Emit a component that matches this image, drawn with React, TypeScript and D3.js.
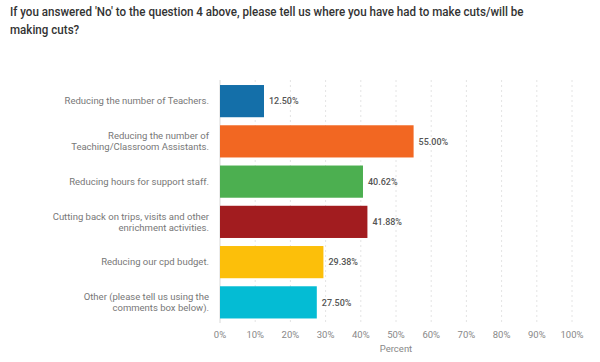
import React from "react";
import * as d3 from "d3";

const categories: string[][] = [
  ["Reducing the number of Teachers."],
  ["Reducing the number of", "Teaching/Classroom Assistants."],
  ["Reducing hours for support staff."],
  ["Cutting back on trips, visits and other", "enrichment activities."],
  ["Reducing our cpd budget."],
  ["Other (please tell us using the", "comments box below)."],
];
const values: number[] = [12.5, 55.0, 40.62, 41.88, 29.38, 27.5];
const valueLabels: string[] = ["12.50%", "55.00%", "40.62%", "41.88%", "29.38%", "27.50%"];
const colors: string[] = ["#146fa9", "#f26722", "#4caf50", "#a21c1f", "#fcbf0a", "#04bcd4"];
const ticks: number[] = [0, 10, 20, 30, 40, 50, 60, 70, 80, 90, 100];
const titleLines: string[] = [
  "If you answered 'No' to the question 4 above, please tell us where you have had to make cuts/will be",
  "making cuts?",
];

const W = 600;
const H = 362;
const FONT = "Roboto, 'Noto Sans', sans-serif";

export default function App() {
  const x = d3.scaleLinear().domain([0, 100]).range([220, 572]);
  const y = d3
    .scaleBand<number>()
    .domain(d3.range(values.length))
    .range([81, 322.5])
    .paddingInner(0.2)
    .paddingOuter(0.1);

  return (
    <svg
      width={W}
      height={H}
      style={{ position: "absolute", left: 0, top: 0, background: "#fff" }}
      fontFamily={FONT}
    >
      <g transform="translate(10,0) scale(0.86,1)">
        {titleLines.map((t, i) => (
          <text key={i} x={0} y={16 + i * 18} fontSize={13.5} fontWeight={500} fill="#333">
            {t}
          </text>
        ))}
      </g>

      {ticks.map((t) => (
        <line
          key={t}
          x1={x(t)}
          x2={x(t)}
          y1={80}
          y2={323}
          stroke={t === 0 ? "#d8d8d8" : "#e4e4e4"}
          strokeDasharray={t === 0 ? undefined : "2,3"}
          strokeWidth={1}
        />
      ))}

      {values.map((v, i) => {
        const by = y(i)!;
        const bh = y.bandwidth();
        const cy = by + bh / 2;
        const lines = categories[i];
        return (
          <g key={i}>
            <rect x={x(0)} y={by} width={x(v) - x(0)} height={bh} fill={colors[i]} />
            <text
              x={x(v) + 5}
              y={cy}
              dy="0.35em"
              fontSize={9}
              fontWeight={500}
              fill="#555"
            >
              {valueLabels[i]}
            </text>
            {lines.map((l, k) => (
              <text
                key={k}
                x={209}
                y={cy + (k - (lines.length - 1) / 2) * 11.3}
                dy="0.35em"
                fontSize={9.5}
                fill="#777"
                textAnchor="end"
              >
                {l}
              </text>
            ))}
          </g>
        );
      })}

      {ticks.map((t) => (
        <text
          key={"l" + t}
          x={x(t)}
          y={335}
          dy="0.35em"
          fontSize={9.5}
          fill="#888"
          textAnchor="middle"
        >
          {t + "%"}
        </text>
      ))}
      <text x={x(50)} y={349} dy="0.35em" fontSize={9.5} fill="#888" textAnchor="middle">
        Percent
      </text>
    </svg>
  );
}
